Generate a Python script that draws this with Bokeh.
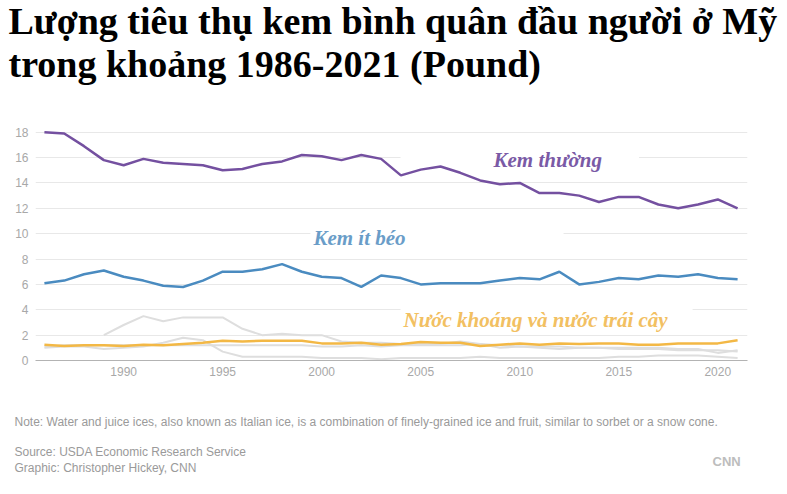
from bokeh.plotting import figure
from bokeh.models import Label, Range1d, FixedTicker
from bokeh.layouts import column
from bokeh.core.properties import value
from bokeh.embed import file_html
from bokeh.resources import INLINE

years = list(range(1986, 2022))
regular = [18.0, 17.9, 16.9, 15.8, 15.4, 15.9, 15.6, 15.5, 15.4, 15.0, 15.1, 15.5,
           15.7, 16.2, 16.1, 15.8, 16.2, 15.9, 14.6, 15.05, 15.3, 14.8, 14.2, 13.9,
           14.0, 13.2, 13.2, 13.0, 12.5, 12.9, 12.9, 12.3, 12.0, 12.3, 12.7, 12.0]
lowfat = [6.1, 6.3, 6.8, 7.1, 6.6, 6.3, 5.9, 5.8, 6.3, 7.0, 7.0, 7.2,
          7.6, 7.0, 6.6, 6.5, 5.8, 6.7, 6.5, 6.0, 6.1, 6.1, 6.1, 6.3,
          6.5, 6.4, 7.0, 6.0, 6.2, 6.5, 6.4, 6.7, 6.6, 6.8, 6.5, 6.4]
water_ices = [1.25, 1.15, 1.2, 1.2, 1.15, 1.25, 1.2, 1.3, 1.4, 1.55, 1.5, 1.55,
              1.55, 1.55, 1.35, 1.35, 1.4, 1.25, 1.3, 1.45, 1.4, 1.4, 1.15, 1.25,
              1.35, 1.25, 1.35, 1.3, 1.35, 1.35, 1.25, 1.25, 1.35, 1.35, 1.35, 1.6]
frozen_yogurt_years = list(range(1989, 2022))
frozen_yogurt = [2.0, 2.8, 3.5, 3.1, 3.4, 3.4, 3.4, 2.5, 2.0, 2.1, 2.0, 2.0,
                 1.5, 1.4, 1.4, 1.3, 1.3, 1.3, 1.5, 1.3, 1.0, 1.1, 1.0, 0.9,
                 1.0, 1.0, 1.0, 1.0, 1.0, 0.9, 0.9, 0.6, 0.8]
sherbet = [1.1, 1.2, 1.2, 1.2, 1.2, 1.2, 1.2, 1.2, 1.2, 1.2, 1.2, 1.2,
           1.2, 1.2, 1.1, 1.1, 1.2, 1.1, 1.2, 1.2, 1.2, 1.2, 1.3, 1.2,
           1.1, 1.1, 1.1, 1.0, 1.0, 0.9, 0.9, 0.9, 0.8, 0.8, 0.8, 0.7]
other = [1.0, 1.1, 1.1, 0.9, 1.0, 1.1, 1.4, 1.8, 1.6, 0.7, 0.3, 0.3,
         0.3, 0.3, 0.2, 0.2, 0.2, 0.1, 0.2, 0.2, 0.2, 0.2, 0.3, 0.2,
         0.2, 0.2, 0.2, 0.2, 0.2, 0.3, 0.3, 0.4, 0.4, 0.4, 0.3, 0.2]
y_ticks = [0, 2, 4, 6, 8, 10, 12, 14, 16, 18]
x_ticks = [1990, 1995, 2000, 2005, 2010, 2015, 2020]

title_lines = ["Lượng tiêu thụ kem bình quân đầu người ở Mỹ",
               "trong khoảng 1986-2021 (Pound)"]
label_regular = "Kem thường"
label_lowfat = "Kem ít béo"
label_water = "Nước khoáng và nước trái cây"
note = ("Note: Water and juice ices, also known as Italian ice, is a combination of "
        "finely-grained ice and fruit, similar to sorbet or a snow cone.")
source = "Source: USDA Economic Research Service"
graphic = "Graphic: Christopher Hickey, CNN"
logo = "CNN"

W = 787
serif = "Liberation Serif"
sans = "Liberation Sans"


def text_panel(height):
    f = figure(width=W, height=height, output_backend="svg", toolbar_location=None,
               x_range=Range1d(0, W), y_range=Range1d(height, 0),
               x_axis_location=None, y_axis_location=None, min_border=0,
               frame_align=False)
    f.grid.grid_line_color = None
    f.outline_line_color = None
    return f


# ---- title panel (image y 0..110)
tp = text_panel(110)
tp.text(x=[8, 8], y=[20, 63], text=title_lines, text_font=value(serif),
        text_font_style="bold", text_font_size="38px", text_color="black",
        text_baseline="alphabetic")

# ---- main chart (image y 110..400)
p = figure(width=W, height=290, output_backend="svg", toolbar_location=None,
           x_range=Range1d(1985.55, 2021.5), y_range=Range1d(0, 18.53),
           min_border_left=35, min_border_right=40, min_border_top=15,
           min_border_bottom=40, frame_align=False)
p.outline_line_color = None
p.xgrid.grid_line_color = None
p.ygrid.grid_line_color = "#e8e8e8"
p.ygrid.grid_line_width = 1
p.yaxis.ticker = FixedTicker(ticks=y_ticks)
p.xaxis.ticker = FixedTicker(ticks=x_ticks)
for ax in (p.xaxis, p.yaxis):
    ax.major_tick_line_color = None
    ax.minor_tick_line_color = None
    ax.major_tick_out = 0
    ax.major_tick_in = 0
    ax.major_label_text_color = "#a8a8a8"
    ax.major_label_text_font = sans
    ax.major_label_text_font_size = "12px"
p.yaxis.axis_line_color = None
p.yaxis.major_label_standoff = 7
p.xaxis.axis_line_color = "#b3b3b3"
p.xaxis.axis_line_width = 1
p.xaxis.major_label_standoff = 6

for txt, x, y, col, pad in [
    (label_regular, 2003.98, 16.92, "#7a5aa6", (93, 37, 2, 2)),
    (label_lowfat, 1999.43, 10.78, "#6a9dc8", (3, 158, 2, 2)),
    (label_water, 2003.98, 4.26, "#f2c062", (3, 25, 2, 2)),
]:
    p.add_layout(Label(x=x, y=y, text=txt, text_color=col, text_font=serif,
                       text_font_style="bold italic", text_font_size="21px",
                       text_baseline="top", text_align="left",
                       background_fill_color="white", padding=pad, level="underlay"))

gray = "#dedede"
p.line(frozen_yogurt_years, frozen_yogurt, line_color=gray, line_width=2)
p.line(years, sherbet, line_color=gray, line_width=2)
p.line(years, other, line_color=gray, line_width=2)
p.line(years, water_ices, line_color="#f3b845", line_width=2.5)
p.line(years, lowfat, line_color="#4a8bc0", line_width=2.5)
p.line(years, regular, line_color="#7450a0", line_width=2.5)

# ---- footnote panel (image y 400..494)
fp = text_panel(94)
fp.text(x=[14, 14, 14], y=[21, 51, 67], text=[note, source, graphic],
        text_font=value(sans), text_font_size="12px", text_color="#9a9a9a",
        text_baseline="alphabetic")
fp.text(x=[712], y=[61], text=[logo], text_font=value(sans), text_font_style="bold",
        text_font_size="13px", text_color="#bdbdbd", text_baseline="alphabetic")

layout = column(tp, p, fp, spacing=0)
open("out.html", "w").write(file_html(layout, INLINE))
